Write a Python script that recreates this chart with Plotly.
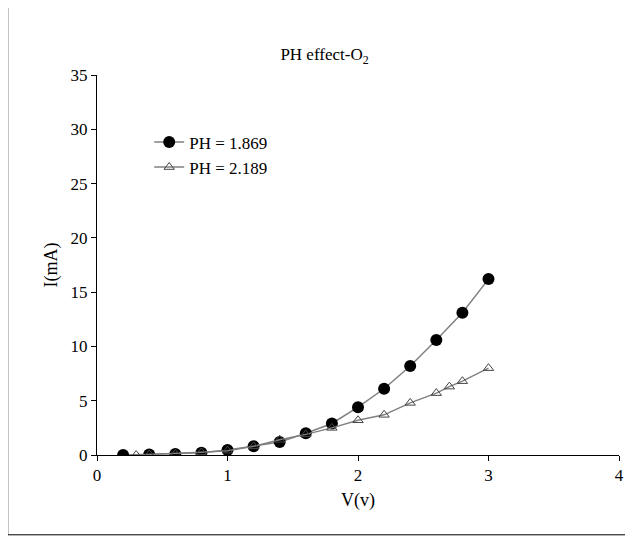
import plotly.graph_objects as go

v1 = [0.2, 0.4, 0.6, 0.8, 1.0, 1.2, 1.4, 1.6, 1.8, 2.0, 2.2, 2.4, 2.6, 2.8, 3.0]
i1 = [0.0, 0.05, 0.1, 0.2, 0.45, 0.8, 1.2, 2.0, 2.9, 4.4, 6.1, 8.2, 10.6, 13.1, 16.2]
v2 = [0.3, 0.4, 0.6, 0.8, 1.0, 1.2, 1.4, 1.6, 1.8, 2.0, 2.2, 2.4, 2.6, 2.7, 2.8, 3.0]
i2 = [0.0, 0.05, 0.1, 0.25, 0.4, 0.8, 1.4, 1.9, 2.5, 3.2, 3.7, 4.8, 5.7, 6.3, 6.8, 8.0]

fig = go.Figure()
fig.add_trace(go.Scatter(x=v1, y=i1, mode='lines+markers', name='PH = 1.869',
                         line=dict(color='#808080', width=1.5),
                         marker=dict(symbol='circle', size=12, color='black')))
fig.add_trace(go.Scatter(x=v2, y=i2, mode='lines+markers', name='PH = 2.189',
                         line=dict(color='#808080', width=1.5),
                         marker=dict(symbol='triangle-up-open', size=9, color='#444444',
                                     line=dict(width=1))))

axis = dict(showgrid=False, zeroline=False, showline=True, linecolor='black',
            ticks='outside', ticklen=5, tickcolor='black', tickfont=dict(size=17),
            title_font=dict(size=18))
fig.update_xaxes(range=[0, 4], dtick=1, title_text='V(v)', title_standoff=8, **axis)
fig.update_yaxes(range=[0, 35], dtick=5, title_text='I(mA)', title_standoff=8, **axis)
fig.update_layout(
    width=633, height=539, plot_bgcolor='white', paper_bgcolor='white',
    font=dict(family='Liberation Serif', size=17, color='black'),
    title=dict(text='PH effect-O<sub>2</sub>', x=0.5, y=0.925, font=dict(size=17)),
    margin=dict(l=89, r=22, t=67, b=92),
    legend=dict(x=0.1, y=0.87, bgcolor='rgba(0,0,0,0)'),
    shapes=[dict(type='rect', xref='paper', yref='paper', x0=-0.171, x1=1.013,
                 y0=-0.21, y1=1.3, line=dict(color='black', width=1))],
)
fig.write_html('out.html')
